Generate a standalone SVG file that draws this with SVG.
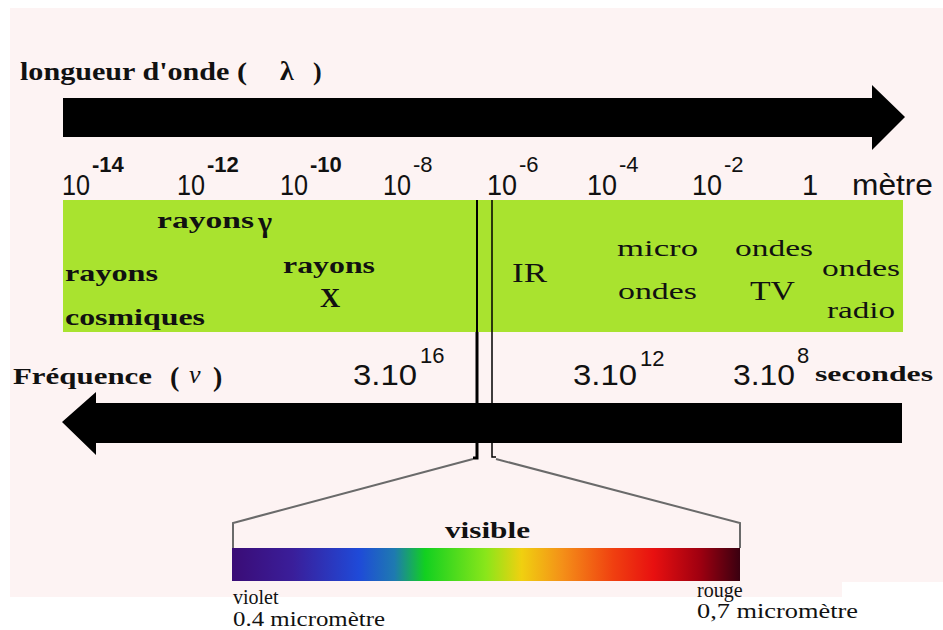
<svg xmlns="http://www.w3.org/2000/svg" width="943" height="630" viewBox="0 0 943 630">
<style>
.serif{font-family:"Liberation Serif","DejaVu Serif",serif;fill:#111}
.b{font-weight:bold}
.sans{font-family:"Liberation Sans","DejaVu Sans",sans-serif;fill:#111}
.num{font-size:29px}
.sup{font-size:22px}
.lbl{font-size:24px}
.arrow{fill:#000}
.vline{stroke:#000;fill:none}
.diag{stroke:#6a6a6a;stroke-width:2;fill:none}
</style>
<defs>
<linearGradient id="spec" x1="0" y1="0" x2="1" y2="0">
<stop offset="0" stop-color="#3a0c76"/>
<stop offset="0.12" stop-color="#3a1e9a"/>
<stop offset="0.25" stop-color="#1f4ad8"/>
<stop offset="0.32" stop-color="#1e7ab0"/>
<stop offset="0.38" stop-color="#12d020"/>
<stop offset="0.5" stop-color="#8ae61a"/>
<stop offset="0.57" stop-color="#f0d010"/>
<stop offset="0.65" stop-color="#f49018"/>
<stop offset="0.75" stop-color="#f04010"/>
<stop offset="0.83" stop-color="#e81010"/>
<stop offset="0.92" stop-color="#a00010"/>
<stop offset="1" stop-color="#3a0010"/>
</linearGradient>
</defs>
<rect x="0" y="0" width="943" height="630" fill="#ffffff"/>
<rect id="bg" x="10" y="8" width="933" height="589" fill="#fdf3f3"/>
<rect x="842" y="582" width="101" height="48" fill="#ffffff"/>

<g id="band">
<rect x="63" y="200" width="840" height="132" fill="#a9e32f"/>
</g>

<g id="connectors">
<polygon class="arrow" points="63,98 872,98 872,85 905,117 872,150 872,137 63,137"/>
<polygon class="arrow" points="902,403 96,403 96,392 62,422 96,455 96,443 902,443"/>
<line class="vline" x1="477" y1="200" x2="477" y2="332" stroke="#4d6a10" stroke-width="2"/>
<line class="vline" x1="492" y1="200" x2="492" y2="332" stroke="#4d6a10" stroke-width="1.5"/>
<polyline class="vline" points="477,332 477,458 473,458" stroke-width="3"/>
<polyline class="vline" points="492,332 492,457 496,457" stroke-width="1.5"/>
<polyline class="diag" points="473,459 233,523 233,548"/>
<polyline class="diag" points="496,459 740,523 740,548"/>
</g>

<g id="title-lambda">
<text class="serif b" x="20" y="80" font-size="26" textLength="227" lengthAdjust="spacingAndGlyphs">longueur d'onde (</text>
<text class="serif b" x="280" y="80" font-size="28">λ</text>
<text class="serif b" x="313" y="80" font-size="26">)</text>
</g>

<g id="scale-lambda">
<text class="sans num" x="62" y="195" textLength="28" lengthAdjust="spacingAndGlyphs">10</text><text class="sans sup b" x="92" y="172">-14</text>
<text class="sans num" x="177" y="195" textLength="28" lengthAdjust="spacingAndGlyphs">10</text><text class="sans sup b" x="207" y="172">-12</text>
<text class="sans num" x="280" y="195" textLength="28" lengthAdjust="spacingAndGlyphs">10</text><text class="sans sup b" x="310" y="172">-10</text>
<text class="sans num" x="383" y="195" textLength="28" lengthAdjust="spacingAndGlyphs">10</text><text class="sans sup" x="413" y="172">-8</text>
<text class="sans num" x="487" y="195" textLength="30" lengthAdjust="spacingAndGlyphs">10</text><text class="sans sup" x="519" y="172">-6</text>
<text class="sans num" x="587" y="195" textLength="30" lengthAdjust="spacingAndGlyphs">10</text><text class="sans sup" x="619" y="172">-4</text>
<text class="sans num" x="692" y="195" textLength="30" lengthAdjust="spacingAndGlyphs">10</text><text class="sans sup" x="724" y="172">-2</text>
<text class="sans num" x="802" y="195">1</text>
<text class="sans num" x="852" y="195" textLength="81" lengthAdjust="spacingAndGlyphs">mètre</text>
</g>

<g id="gamma">
<text class="serif b lbl" x="157" y="228" textLength="97" lengthAdjust="spacingAndGlyphs">rayons</text>
<text class="serif b" x="258" y="232" font-size="30">γ</text>
</g>
<g id="cosmiques">
<text class="serif b lbl" x="65" y="281" textLength="93" lengthAdjust="spacingAndGlyphs">rayons</text>
<text class="serif b lbl" x="65" y="325" textLength="140" lengthAdjust="spacingAndGlyphs">cosmiques</text>
</g>
<g id="rayonsX">
<text class="serif b lbl" x="283" y="273" textLength="92" lengthAdjust="spacingAndGlyphs">rayons</text>
<text class="serif b" x="330" y="307" font-size="28" text-anchor="middle">X</text>
</g>
<g id="IR">
<text class="serif" x="512" y="282" font-size="28" textLength="35" lengthAdjust="spacingAndGlyphs">IR</text>
</g>
<g id="micro">
<text class="serif lbl" x="617" y="256" textLength="81" lengthAdjust="spacingAndGlyphs">micro</text>
<text class="serif lbl" x="618" y="299" textLength="79" lengthAdjust="spacingAndGlyphs">ondes</text>
</g>
<g id="tv">
<text class="serif lbl" x="735" y="256" textLength="78" lengthAdjust="spacingAndGlyphs">ondes</text>
<text class="serif" x="750" y="300" font-size="28" textLength="45" lengthAdjust="spacingAndGlyphs">TV</text>
</g>
<g id="radio">
<text class="serif lbl" x="822" y="276" textLength="78" lengthAdjust="spacingAndGlyphs">ondes</text>
<text class="serif lbl" x="827" y="318" textLength="68" lengthAdjust="spacingAndGlyphs">radio</text>
</g>

<g id="title-nu">
<text class="serif b" x="13" y="384" font-size="24" textLength="139" lengthAdjust="spacingAndGlyphs">Fréquence</text>
<text class="serif b" x="170" y="386" font-size="28">(</text>
<text class="serif" x="189" y="383" font-size="26" font-style="italic">ν</text>
<text class="serif b" x="213" y="386" font-size="28">)</text>
</g>

<g id="scale-nu">
<text class="sans num" x="353" y="385" textLength="64" lengthAdjust="spacingAndGlyphs">3.10</text><text class="sans sup" x="420" y="363" font-size="26">16</text>
<text class="sans num" x="573" y="385" textLength="64" lengthAdjust="spacingAndGlyphs">3.10</text><text class="sans sup" x="640" y="366" font-size="26">12</text>
<text class="sans num" x="733" y="385" textLength="62" lengthAdjust="spacingAndGlyphs">3.10</text><text class="sans sup" x="797" y="363" font-size="26">8</text>
<text class="serif b" x="815" y="381" font-size="22" textLength="118" lengthAdjust="spacingAndGlyphs">secondes</text>
</g>

<g id="visible">
<text class="serif b" x="445" y="538" font-size="24" textLength="85" lengthAdjust="spacingAndGlyphs">visible</text>
<rect x="232" y="548" width="508" height="33" fill="url(#spec)"/>
</g>
<g id="violet">
<text class="serif" x="233" y="604" font-size="20">violet</text>
<text class="serif" x="233" y="626" font-size="21" textLength="152" lengthAdjust="spacingAndGlyphs">0.4 micromètre</text>
</g>
<g id="rouge">
<text class="serif" x="697" y="597" font-size="20">rouge</text>
<text class="serif" x="697" y="618" font-size="21" textLength="161" lengthAdjust="spacingAndGlyphs">0,7 micromètre</text>
</g>
</svg>
